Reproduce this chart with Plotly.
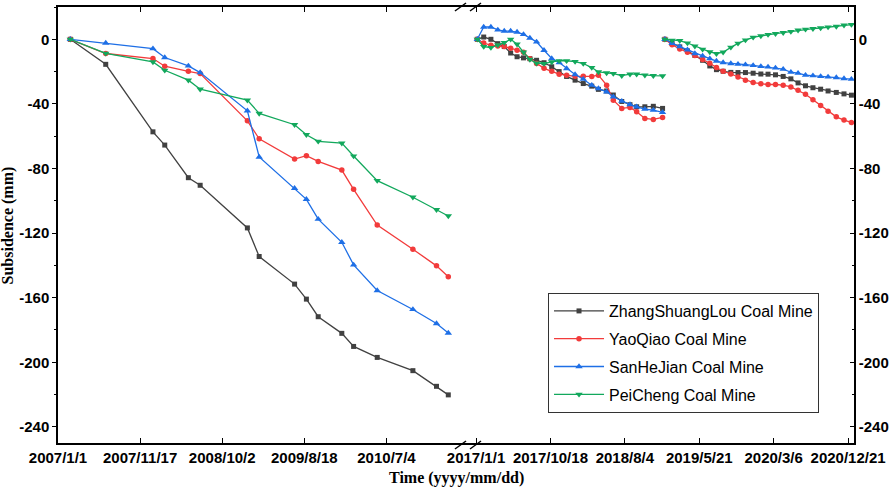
import plotly.graph_objects as go

# ---------------- data ----------------
dates_2007 = ["2007-02-18", "2007-07-06", "2008-01-06", "2008-02-21", "2008-05-23", "2008-07-08",
              "2009-01-08", "2009-02-23", "2009-07-11", "2009-08-26", "2009-10-11", "2010-01-11",
              "2010-02-26", "2010-05-29", "2010-10-15", "2011-01-15", "2011-03-02"]
dates_2017 = ["2017-01-06", "2017-01-31", "2017-02-28", "2017-03-27", "2017-04-21", "2017-05-16",
              "2017-06-10", "2017-07-05", "2017-07-30", "2017-08-25", "2017-09-23", "2017-10-23",
              "2017-11-21", "2017-12-20", "2018-01-22", "2018-02-23", "2018-03-28", "2018-04-23",
              "2018-05-25", "2018-06-20", "2018-07-23", "2018-08-24", "2018-09-19", "2018-10-21",
              "2018-11-23", "2018-12-29"]
dates_2019 = ["2019-01-07", "2019-02-04", "2019-03-06", "2019-04-05", "2019-05-04", "2019-06-03",
              "2019-07-01", "2019-07-27", "2019-08-22", "2019-09-21", "2019-10-19", "2019-11-17",
              "2019-12-17", "2020-01-16", "2020-02-13", "2020-03-13", "2020-04-12", "2020-05-12",
              "2020-06-09", "2020-07-08", "2020-08-06", "2020-09-05", "2020-10-04", "2020-11-05",
              "2020-12-05", "2021-01-03"]

zsl_2007 = [0, -15.5, -57.3, -65.5, -85.7, -90.4, -116.8, -134.5, -151.6, -160.9, -171.8, -182.1,
            -190.2, -197.0, -205.2, -214.9, -220.2]
yq_2007 = [0, -8.8, -11.9, -16.7, -19.8, -21.2, -50.5, -61.6, -74.2, -72.1, -75.6, -81.0,
           -92.9, -115.0, -130.0, -140.3, -147.1]
shj_2007 = [0, -2.3, -5.8, -11.3, -16.5, -20.6, -44.3, -72.9, -92.3, -99.1, -111.4, -125.7,
            -139.7, -155.6, -167.3, -176.0, -181.9]
pc_2007 = [0, -8.7, -14.0, -19.2, -25.3, -30.9, -37.7, -45.9, -52.9, -59.1, -63.2, -64.3,
           -72.3, -87.5, -97.8, -105.5, -109.4]

zsl_2017 = [0, 1.4, 0, -2.7, -4.5, -8.5, -10.8, -11.5, -12.0, -13.0, -14.5, -17.0, -20.0,
            -23.0, -25.3, -27.4, -29.0, -31.0, -32.0, -34.5, -38.5, -40.5, -41.8, -41.8, -41.5, -42.8]
yq_2017 = [0, -2.3, -3.7, -4.2, -4.5, -5.5, -6.8, -8.0, -12.0, -15.0, -18.0, -19.8, -21.6,
           -22.2, -22.9, -22.9, -23.0, -22.2, -28.4, -37.7, -42.8, -42.2, -44.9, -49.0, -49.6, -48.4]
shj_2017 = [0, 7.6, 7.6, 5.8, 5.1, 5.1, 4.5, 3.0, 0.8, -1.6, -6.8, -11.9, -14.4, -18.1, -21.8,
            -24.7, -28.4, -30.5, -32.5, -35.6, -38.3, -40.4, -41.8, -43.3, -43.9, -45.3]
pc_2017 = [0, -4.5, -5.1, -3.5, -2.0, 0, -3.0, -8.0, -12.5, -14.8, -15.0, -14.0, -13.3, -13.3,
           -13.8, -15.0, -17.5, -20.2, -20.8, -21.2, -22.5, -21.6, -21.6, -22.2, -22.5, -22.7]

zsl_2019 = [0, -2.5, -4.7, -7.2, -10.0, -13.0, -16.5, -18.8, -19.8, -20.5, -20.6, -20.6, -21.0,
            -21.5, -21.6, -22.0, -23.0, -24.5, -27.0, -28.8, -30.0, -30.9, -32.0, -32.9, -33.8, -34.6]
yq_2019 = [0, -3.3, -6.0, -8.0, -10.0, -12.5, -14.8, -17.5, -19.8, -21.5, -23.3, -25.3, -26.8,
           -27.5, -28.0, -28.0, -28.4, -29.5, -31.5, -34.0, -37.5, -41.0, -44.5, -48.0, -50.0, -51.5]
shj_2019 = [0, -2.5, -4.5, -6.5, -8.8, -10.3, -12.0, -13.5, -14.4, -15.0, -15.4, -15.7, -16.2,
            -16.8, -17.1, -17.7, -18.5, -20.4, -21.0, -22.2, -22.5, -23.0, -23.3, -23.7, -24.3, -24.7]
pc_2019 = [0, -0.6, -0.8, -2.3, -4.3, -6.2, -7.8, -8.9, -8.0, -5.0, -2.5, -0.5, 1.2, 2.1, 2.9,
           3.5, 4.1, 4.8, 5.6, 6.2, 6.6, 7.0, 7.6, 8.0, 8.7, 9.1]

mine_names = ["ZhangShuangLou Coal Mine", "YaoQiao Coal Mine", "SanHeJian Coal Mine", "PeiCheng Coal Mine"]

tick_vals = ["2007-01-01", "2007-11-17", "2008-10-02", "2009-08-18", "2010-07-04",
             "2017-01-01", "2017-10-18", "2018-08-04", "2019-05-21", "2020-03-06", "2020-12-21"]
tick_text = ["2007/1/1", "2007/11/17", "2008/10/2", "2009/8/18", "2010/7/4",
             "2017/1/1", "2017/10/18", "2018/8/4", "2019/5/21", "2020/3/6", "2020/12/21"]
y_ticks = [0, -40, -80, -120, -160, -200, -240]
y_tick_text = ["0", "-40", "-80", "-120", "-160", "-200", "-240"]

# ---------------- styles ----------------
colors = ["#414141", "#F23B3B", "#1E6FE6", "#12A85C"]
symbols = ["square", "circle", "triangle-up", "triangle-down"]
sizes = [5, 5.5, 6.5, 6.5]
series = [
    (zsl_2007, zsl_2017, zsl_2019),
    (yq_2007, yq_2017, yq_2019),
    (shj_2007, shj_2017, shj_2019),
    (pc_2007, pc_2017, pc_2019),
]

fig = go.Figure()
for i, (name, col, sym, sz, (a, b, c)) in enumerate(zip(mine_names, colors, symbols, sizes, series)):
    grp = "g%d" % i
    fig.add_trace(go.Scatter(
        x=dates_2007, y=a, name=name, mode="lines+markers",
        line=dict(color=col, width=1.3),
        marker=dict(symbol=sym, size=sz, color=col),
        legendgroup=grp,
    ))
    fig.add_trace(go.Scatter(
        x=dates_2017 + [None] + dates_2019, y=b + [None] + c, name=name,
        mode="lines+markers", yaxis="y2",
        line=dict(color=col, width=1.3),
        marker=dict(symbol=sym, size=sz, color=col),
        legendgroup=grp, showlegend=False, connectgaps=False,
    ))

tickfont = dict(family="Liberation Sans", size=15, color="black", weight="bold")

fig.update_layout(
    width=892, height=491,
    margin=dict(l=58, r=38, t=7, b=48),
    paper_bgcolor="white", plot_bgcolor="white",
    showlegend=True,
    legend=dict(
        x=0.6156, y=0.344, xanchor="left", yanchor="top",
        bgcolor="white", bordercolor="#333333", borderwidth=1,
        font=dict(family="Liberation Sans", size=16, color="black"),
        itemwidth=50, traceorder="grouped", tracegroupgap=4,
    ),
    xaxis=dict(
        type="date",
        range=["2007-01-01", "2021-01-13"],
        rangebreaks=[dict(bounds=["2011-05-18", "2016-12-01"])],
        tickmode="array", tickvals=tick_vals, ticktext=tick_text,
        ticks="inside", ticklen=5, tickwidth=1.3, tickcolor="black",
        showline=True, linecolor="black", linewidth=1.5, mirror="ticks",
        showgrid=False, zeroline=False,
        tickfont=tickfont, automargin=False,
    ),
    yaxis=dict(
        range=[-250, 20], tickmode="array", tickvals=y_ticks, ticktext=y_tick_text,
        ticks="outside", ticklen=4, tickwidth=1.3, tickcolor="black",
        minor=dict(dtick=20, tick0=0, ticks="outside", ticklen=2.5, tickwidth=1.2, tickcolor="black"),
        showline=True, linecolor="black", linewidth=1.5,
        showgrid=False, zeroline=False,
        tickfont=tickfont, automargin=False,
    ),
    yaxis2=dict(
        overlaying="y", side="right", anchor="x",
        range=[-250, 20], tickmode="array", tickvals=y_ticks, ticktext=y_tick_text,
        ticks="inside", ticklen=4, tickwidth=1.3, tickcolor="black",
        minor=dict(dtick=20, tick0=0, ticks="inside", ticklen=2.5, tickwidth=1.2, tickcolor="black"),
        showline=True, linecolor="black", linewidth=1.5,
        showgrid=False, zeroline=False,
        tickfont=tickfont, automargin=False,
    ),
)

# axis titles
fig.add_annotation(text="Time (yyyy/mm/dd)", xref="paper", yref="paper", x=0.5, y=-0.08,
                   xanchor="center", yanchor="middle", showarrow=False,
                   font=dict(family="Liberation Serif", size=16, color="black", weight="bold"))
fig.add_annotation(text="Subsidence (mm)", xref="paper", yref="paper", x=-0.0622, y=0.5,
                   xanchor="center", yanchor="middle", showarrow=False, textangle=-90,
                   font=dict(family="Liberation Serif", size=16, color="black", weight="bold"))

# axis-break marks
for (x0, x1) in [(0.4987, 0.5126), (0.5176, 0.5314)]:
    for (y0, y1) in [(-0.0138, 0.0046), (0.9908, 1.0092)]:
        fig.add_shape(type="line", xref="paper", yref="paper", x0=x0, x1=x1, y0=y0, y1=y1,
                      line=dict(color="black", width=1.5))

fig.write_html("out.html",
               config={"displayModeBar": False},
               post_script="document.body.style.margin='0';document.body.style.overflow='hidden';")
